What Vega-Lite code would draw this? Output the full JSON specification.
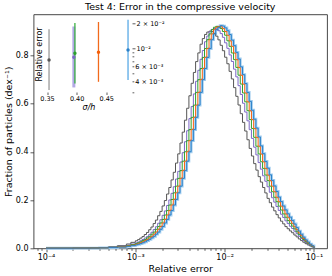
{
"$schema":"https://vega.github.io/schema/vega-lite/v6.json",
"width":293.5,"height":234,
"autosize":{"type":"none"},
"padding":{"left":33.5,"top":14.3,"right":5,"bottom":27.7},
"background":"white",
"title":{"text":"Test 4: Error in the compressive velocity","fontSize":9.5,"fontWeight":"normal","font":"DejaVu Sans","color":"#000","offset":3,"anchor":"middle"},
"config":{"view":{"stroke":"#333","strokeWidth":0.9},"font":"DejaVu Sans","axis":{"labelFont":"DejaVu Sans","titleFont":"DejaVu Sans","labelColor":"#000","titleColor":"#000","tickColor":"#333","tickWidth":0.8,"domain":false,"grid":false,"titleFontWeight":"normal","labelFontSize":8,"titleFontSize":9.5,"labelOverlap":false,"labelFlush":false}},
"datasets":{
"hist":[
{"s":"g","x":0.0001,"y":0.00045},{"s":"g","x":0.00019953,"y":0.001},{"s":"g","x":0.00031623,"y":0.0019},{"s":"g","x":0.00039811,"y":0.0032},{"s":"g","x":0.00050119,"y":0.0058},{"s":"g","x":0.00063096,"y":0.0108},{"s":"g","x":0.00079433,"y":0.0178},{"s":"g","x":0.00089125,"y":0.0247},
{"s":"g","x":0.001,"y":0.0311},{"s":"g","x":0.0010593,"y":0.036},{"s":"g","x":0.001122,"y":0.0423},{"s":"g","x":0.0011885,"y":0.0486},{"s":"g","x":0.0012589,"y":0.0572},{"s":"g","x":0.0013335,"y":0.0657},{"s":"g","x":0.0014125,"y":0.077},{"s":"g","x":0.0014962,"y":0.0882},{"s":"g","x":0.0015849,"y":0.1026},{"s":"g","x":0.0016788,"y":0.117},{"s":"g","x":0.0017783,"y":0.135},{"s":"g","x":0.0018836,"y":0.153},{"s":"g","x":0.0019953,"y":0.1755},{"s":"g","x":0.0021135,"y":0.198},{"s":"g","x":0.0022387,"y":0.225},{"s":"g","x":0.0023714,"y":0.252},{"s":"g","x":0.0025119,"y":0.2835},{"s":"g","x":0.0026607,"y":0.315},{"s":"g","x":0.0028184,"y":0.3533},{"s":"g","x":0.0029854,"y":0.3915},{"s":"g","x":0.0031623,"y":0.4365},{"s":"g","x":0.0033497,"y":0.4815},{"s":"g","x":0.0035481,"y":0.531},{"s":"g","x":0.0037584,"y":0.5805},{"s":"g","x":0.0039811,"y":0.6323},{"s":"g","x":0.004217,"y":0.684},{"s":"g","x":0.0044668,"y":0.729},{"s":"g","x":0.0047315,"y":0.774},{"s":"g","x":0.0050119,"y":0.81},{"s":"g","x":0.0053088,"y":0.846},{"s":"g","x":0.0056234,"y":0.8694},{"s":"g","x":0.0059566,"y":0.8865},{"s":"g","x":0.0063096,"y":0.8964},{"s":"g","x":0.0066834,"y":0.9},{"s":"g","x":0.0070795,"y":0.8982},{"s":"g","x":0.0074989,"y":0.891},{"s":"g","x":0.0079433,"y":0.8793},{"s":"g","x":0.008414,"y":0.864},{"s":"g","x":0.0089125,"y":0.8415},{"s":"g","x":0.0094406,"y":0.819},{"s":"g","x":0.01,"y":0.792},{"s":"g","x":0.010593,"y":0.765},{"s":"g","x":0.01122,"y":0.7335},{"s":"g","x":0.011885,"y":0.702},{"s":"g","x":0.012589,"y":0.666},{"s":"g","x":0.013335,"y":0.63},{"s":"g","x":0.014125,"y":0.594},{"s":"g","x":0.014962,"y":0.558},{"s":"g","x":0.015849,"y":0.522},{"s":"g","x":0.016788,"y":0.486},{"s":"g","x":0.017783,"y":0.45},{"s":"g","x":0.018836,"y":0.414},{"s":"g","x":0.019953,"y":0.3825},{"s":"g","x":0.021135,"y":0.351},{"s":"g","x":0.022387,"y":0.324},{"s":"g","x":0.023714,"y":0.297},{"s":"g","x":0.025119,"y":0.2745},{"s":"g","x":0.026607,"y":0.252},{"s":"g","x":0.028184,"y":0.2295},{"s":"g","x":0.029854,"y":0.207},{"s":"g","x":0.031623,"y":0.189},{"s":"g","x":0.033497,"y":0.171},{"s":"g","x":0.035481,"y":0.1553},{"s":"g","x":0.037584,"y":0.1395},{"s":"g","x":0.039811,"y":0.126},{"s":"g","x":0.04217,"y":0.1125},{"s":"g","x":0.044668,"y":0.1013},{"s":"g","x":0.047315,"y":0.09},{"s":"g","x":0.050119,"y":0.081},{"s":"g","x":0.053088,"y":0.072},{"s":"g","x":0.056234,"y":0.0644},{"s":"g","x":0.059566,"y":0.055},{"s":"g","x":0.063096,"y":0.0473},{"s":"g","x":0.066834,"y":0.0387},{"s":"g","x":0.070795,"y":0.032},{"s":"g","x":0.074989,"y":0.0252},{"s":"g","x":0.079433,"y":0.0192},{"s":"g","x":0.08414,"y":0.014},{"s":"g","x":0.089125,"y":0.0096},{"s":"g","x":0.094406,"y":0.0056},{"s":"g","x":0.1,"y":0},
{"s":"p","x":0.0001,"y":0.0004},{"s":"p","x":0.00019953,"y":0.0008},{"s":"p","x":0.00031623,"y":0.0015},{"s":"p","x":0.00039811,"y":0.0026},{"s":"p","x":0.00050119,"y":0.0045},{"s":"p","x":0.00063096,"y":0.008},{"s":"p","x":0.00079433,"y":0.0128},{"s":"p","x":0.00089125,"y":0.0178},
{"s":"p","x":0.001,"y":0.0228},{"s":"p","x":0.0010593,"y":0.0264},{"s":"p","x":0.001122,"y":0.0314},{"s":"p","x":0.0011885,"y":0.0364},{"s":"p","x":0.0012589,"y":0.0428},{"s":"p","x":0.0013335,"y":0.0492},{"s":"p","x":0.0014125,"y":0.0578},{"s":"p","x":0.0014962,"y":0.0665},{"s":"p","x":0.0015849,"y":0.0779},{"s":"p","x":0.0016788,"y":0.0893},{"s":"p","x":0.0017783,"y":0.1039},{"s":"p","x":0.0018836,"y":0.1184},{"s":"p","x":0.0019953,"y":0.1367},{"s":"p","x":0.0021135,"y":0.1549},{"s":"p","x":0.0022387,"y":0.1776},{"s":"p","x":0.0023714,"y":0.2004},{"s":"p","x":0.0025119,"y":0.2278},{"s":"p","x":0.0026607,"y":0.2551},{"s":"p","x":0.0028184,"y":0.287},{"s":"p","x":0.0029854,"y":0.3189},{"s":"p","x":0.0031623,"y":0.3576},{"s":"p","x":0.0033497,"y":0.3963},{"s":"p","x":0.0035481,"y":0.4418},{"s":"p","x":0.0037584,"y":0.4874},{"s":"p","x":0.0039811,"y":0.5375},{"s":"p","x":0.004217,"y":0.5876},{"s":"p","x":0.0044668,"y":0.64},{"s":"p","x":0.0047315,"y":0.6924},{"s":"p","x":0.0050119,"y":0.7379},{"s":"p","x":0.0053088,"y":0.7835},{"s":"p","x":0.0056234,"y":0.8199},{"s":"p","x":0.0059566,"y":0.8563},{"s":"p","x":0.0063096,"y":0.88},{"s":"p","x":0.0066834,"y":0.8973},{"s":"p","x":0.0070795,"y":0.9074},{"s":"p","x":0.0074989,"y":0.911},{"s":"p","x":0.0079433,"y":0.9092},{"s":"p","x":0.008414,"y":0.9019},{"s":"p","x":0.0089125,"y":0.89},{"s":"p","x":0.0094406,"y":0.8746},{"s":"p","x":0.01,"y":0.8518},{"s":"p","x":0.010593,"y":0.829},{"s":"p","x":0.01122,"y":0.8017},{"s":"p","x":0.011885,"y":0.7744},{"s":"p","x":0.012589,"y":0.7425},{"s":"p","x":0.013335,"y":0.7106},{"s":"p","x":0.014125,"y":0.6741},{"s":"p","x":0.014962,"y":0.6377},{"s":"p","x":0.015849,"y":0.6013},{"s":"p","x":0.016788,"y":0.5648},{"s":"p","x":0.017783,"y":0.5284},{"s":"p","x":0.018836,"y":0.4919},{"s":"p","x":0.019953,"y":0.4555},{"s":"p","x":0.021135,"y":0.4191},{"s":"p","x":0.022387,"y":0.3872},{"s":"p","x":0.023714,"y":0.3553},{"s":"p","x":0.025119,"y":0.328},{"s":"p","x":0.026607,"y":0.3006},{"s":"p","x":0.028184,"y":0.2779},{"s":"p","x":0.029854,"y":0.2551},{"s":"p","x":0.031623,"y":0.2323},{"s":"p","x":0.033497,"y":0.2095},{"s":"p","x":0.035481,"y":0.1913},{"s":"p","x":0.037584,"y":0.1731},{"s":"p","x":0.039811,"y":0.1571},{"s":"p","x":0.04217,"y":0.1412},{"s":"p","x":0.044668,"y":0.1275},{"s":"p","x":0.047315,"y":0.1139},{"s":"p","x":0.050119,"y":0.1025},{"s":"p","x":0.053088,"y":0.0911},{"s":"p","x":0.056234,"y":0.082},{"s":"p","x":0.059566,"y":0.0707},{"s":"p","x":0.063096,"y":0.0606},{"s":"p","x":0.066834,"y":0.0494},{"s":"p","x":0.070795,"y":0.0407},{"s":"p","x":0.074989,"y":0.0319},{"s":"p","x":0.079433,"y":0.0246},{"s":"p","x":0.08414,"y":0.0182},{"s":"p","x":0.089125,"y":0.0123},{"s":"p","x":0.094406,"y":0.0071},{"s":"p","x":0.1,"y":0},
{"s":"gr","x":0.0001,"y":0.0003},{"s":"gr","x":0.00019953,"y":0.0007},{"s":"gr","x":0.00031623,"y":0.0014},{"s":"gr","x":0.00039811,"y":0.0023},{"s":"gr","x":0.00050119,"y":0.0039},{"s":"gr","x":0.00063096,"y":0.0069},{"s":"gr","x":0.00079433,"y":0.011},{"s":"gr","x":0.00089125,"y":0.0152},
{"s":"gr","x":0.001,"y":0.0193},{"s":"gr","x":0.0010593,"y":0.023},{"s":"gr","x":0.001122,"y":0.0267},{"s":"gr","x":0.0011885,"y":0.0317},{"s":"gr","x":0.0012589,"y":0.0368},{"s":"gr","x":0.0013335,"y":0.0432},{"s":"gr","x":0.0014125,"y":0.0497},{"s":"gr","x":0.0014962,"y":0.0584},{"s":"gr","x":0.0015849,"y":0.0672},{"s":"gr","x":0.0016788,"y":0.0787},{"s":"gr","x":0.0017783,"y":0.0902},{"s":"gr","x":0.0018836,"y":0.1049},{"s":"gr","x":0.0019953,"y":0.1196},{"s":"gr","x":0.0021135,"y":0.138},{"s":"gr","x":0.0022387,"y":0.1564},{"s":"gr","x":0.0023714,"y":0.1794},{"s":"gr","x":0.0025119,"y":0.2024},{"s":"gr","x":0.0026607,"y":0.23},{"s":"gr","x":0.0028184,"y":0.2576},{"s":"gr","x":0.0029854,"y":0.2898},{"s":"gr","x":0.0031623,"y":0.322},{"s":"gr","x":0.0033497,"y":0.3611},{"s":"gr","x":0.0035481,"y":0.4002},{"s":"gr","x":0.0037584,"y":0.4462},{"s":"gr","x":0.0039811,"y":0.4922},{"s":"gr","x":0.004217,"y":0.5428},{"s":"gr","x":0.0044668,"y":0.5934},{"s":"gr","x":0.0047315,"y":0.6463},{"s":"gr","x":0.0050119,"y":0.6992},{"s":"gr","x":0.0053088,"y":0.7452},{"s":"gr","x":0.0056234,"y":0.7912},{"s":"gr","x":0.0059566,"y":0.828},{"s":"gr","x":0.0063096,"y":0.8648},{"s":"gr","x":0.0066834,"y":0.8887},{"s":"gr","x":0.0070795,"y":0.9062},{"s":"gr","x":0.0074989,"y":0.9163},{"s":"gr","x":0.0079433,"y":0.92},{"s":"gr","x":0.008414,"y":0.9182},{"s":"gr","x":0.0089125,"y":0.9108},{"s":"gr","x":0.0094406,"y":0.8988},{"s":"gr","x":0.01,"y":0.8832},{"s":"gr","x":0.010593,"y":0.8602},{"s":"gr","x":0.01122,"y":0.8372},{"s":"gr","x":0.011885,"y":0.8096},{"s":"gr","x":0.012589,"y":0.782},{"s":"gr","x":0.013335,"y":0.7498},{"s":"gr","x":0.014125,"y":0.7176},{"s":"gr","x":0.014962,"y":0.6808},{"s":"gr","x":0.015849,"y":0.644},{"s":"gr","x":0.016788,"y":0.6072},{"s":"gr","x":0.017783,"y":0.5704},{"s":"gr","x":0.018836,"y":0.5336},{"s":"gr","x":0.019953,"y":0.4968},{"s":"gr","x":0.021135,"y":0.46},{"s":"gr","x":0.022387,"y":0.4232},{"s":"gr","x":0.023714,"y":0.391},{"s":"gr","x":0.025119,"y":0.3588},{"s":"gr","x":0.026607,"y":0.3312},{"s":"gr","x":0.028184,"y":0.3036},{"s":"gr","x":0.029854,"y":0.2806},{"s":"gr","x":0.031623,"y":0.2576},{"s":"gr","x":0.033497,"y":0.2346},{"s":"gr","x":0.035481,"y":0.2116},{"s":"gr","x":0.037584,"y":0.1932},{"s":"gr","x":0.039811,"y":0.1748},{"s":"gr","x":0.04217,"y":0.1587},{"s":"gr","x":0.044668,"y":0.1426},{"s":"gr","x":0.047315,"y":0.1288},{"s":"gr","x":0.050119,"y":0.115},{"s":"gr","x":0.053088,"y":0.1035},{"s":"gr","x":0.056234,"y":0.092},{"s":"gr","x":0.059566,"y":0.0803},{"s":"gr","x":0.063096,"y":0.0684},{"s":"gr","x":0.066834,"y":0.0566},{"s":"gr","x":0.070795,"y":0.0458},{"s":"gr","x":0.074989,"y":0.0364},{"s":"gr","x":0.079433,"y":0.0276},{"s":"gr","x":0.08414,"y":0.0207},{"s":"gr","x":0.089125,"y":0.014},{"s":"gr","x":0.094406,"y":0.0082},{"s":"gr","x":0.1,"y":0},
{"s":"o","x":0.0001,"y":0.0003},{"s":"o","x":0.00019953,"y":0.0007},{"s":"o","x":0.00031623,"y":0.0013},{"s":"o","x":0.00039811,"y":0.0019},{"s":"o","x":0.00050119,"y":0.0034},{"s":"o","x":0.00063096,"y":0.006},{"s":"o","x":0.00079433,"y":0.0094},{"s":"o","x":0.00089125,"y":0.0129},
{"s":"o","x":0.001,"y":0.0166},{"s":"o","x":0.0010593,"y":0.0193},{"s":"o","x":0.001122,"y":0.023},{"s":"o","x":0.0011885,"y":0.0267},{"s":"o","x":0.0012589,"y":0.0317},{"s":"o","x":0.0013335,"y":0.0368},{"s":"o","x":0.0014125,"y":0.0432},{"s":"o","x":0.0014962,"y":0.0497},{"s":"o","x":0.0015849,"y":0.0584},{"s":"o","x":0.0016788,"y":0.0672},{"s":"o","x":0.0017783,"y":0.0787},{"s":"o","x":0.0018836,"y":0.0902},{"s":"o","x":0.0019953,"y":0.1049},{"s":"o","x":0.0021135,"y":0.1196},{"s":"o","x":0.0022387,"y":0.138},{"s":"o","x":0.0023714,"y":0.1564},{"s":"o","x":0.0025119,"y":0.1794},{"s":"o","x":0.0026607,"y":0.2024},{"s":"o","x":0.0028184,"y":0.23},{"s":"o","x":0.0029854,"y":0.2576},{"s":"o","x":0.0031623,"y":0.2898},{"s":"o","x":0.0033497,"y":0.322},{"s":"o","x":0.0035481,"y":0.3611},{"s":"o","x":0.0037584,"y":0.4002},{"s":"o","x":0.0039811,"y":0.4462},{"s":"o","x":0.004217,"y":0.4922},{"s":"o","x":0.0044668,"y":0.5428},{"s":"o","x":0.0047315,"y":0.5934},{"s":"o","x":0.0050119,"y":0.6463},{"s":"o","x":0.0053088,"y":0.6992},{"s":"o","x":0.0056234,"y":0.7452},{"s":"o","x":0.0059566,"y":0.7912},{"s":"o","x":0.0063096,"y":0.828},{"s":"o","x":0.0066834,"y":0.8648},{"s":"o","x":0.0070795,"y":0.8887},{"s":"o","x":0.0074989,"y":0.9062},{"s":"o","x":0.0079433,"y":0.9163},{"s":"o","x":0.008414,"y":0.92},{"s":"o","x":0.0089125,"y":0.9182},{"s":"o","x":0.0094406,"y":0.9108},{"s":"o","x":0.01,"y":0.8988},{"s":"o","x":0.010593,"y":0.8832},{"s":"o","x":0.01122,"y":0.8602},{"s":"o","x":0.011885,"y":0.8372},{"s":"o","x":0.012589,"y":0.8096},{"s":"o","x":0.013335,"y":0.782},{"s":"o","x":0.014125,"y":0.7498},{"s":"o","x":0.014962,"y":0.7176},{"s":"o","x":0.015849,"y":0.6808},{"s":"o","x":0.016788,"y":0.644},{"s":"o","x":0.017783,"y":0.6072},{"s":"o","x":0.018836,"y":0.5704},{"s":"o","x":0.019953,"y":0.5336},{"s":"o","x":0.021135,"y":0.4968},{"s":"o","x":0.022387,"y":0.46},{"s":"o","x":0.023714,"y":0.4232},{"s":"o","x":0.025119,"y":0.391},{"s":"o","x":0.026607,"y":0.3588},{"s":"o","x":0.028184,"y":0.3312},{"s":"o","x":0.029854,"y":0.3036},{"s":"o","x":0.031623,"y":0.2806},{"s":"o","x":0.033497,"y":0.2576},{"s":"o","x":0.035481,"y":0.2346},{"s":"o","x":0.037584,"y":0.2116},{"s":"o","x":0.039811,"y":0.1932},{"s":"o","x":0.04217,"y":0.1748},{"s":"o","x":0.044668,"y":0.1587},{"s":"o","x":0.047315,"y":0.1426},{"s":"o","x":0.050119,"y":0.1288},{"s":"o","x":0.053088,"y":0.115},{"s":"o","x":0.056234,"y":0.1035},{"s":"o","x":0.059566,"y":0.0892},{"s":"o","x":0.063096,"y":0.077},{"s":"o","x":0.066834,"y":0.0633},{"s":"o","x":0.070795,"y":0.052},{"s":"o","x":0.074989,"y":0.0406},{"s":"o","x":0.079433,"y":0.0312},{"s":"o","x":0.08414,"y":0.023},{"s":"o","x":0.089125,"y":0.0157},{"s":"o","x":0.094406,"y":0.0092},{"s":"o","x":0.1,"y":0},
{"s":"b","x":0.0001,"y":0.0003},{"s":"b","x":0.00019953,"y":0.0006},{"s":"b","x":0.00031623,"y":0.0011},{"s":"b","x":0.00039811,"y":0.0017},{"s":"b","x":0.00050119,"y":0.0029},{"s":"b","x":0.00063096,"y":0.0051},{"s":"b","x":0.00079433,"y":0.0081},{"s":"b","x":0.00089125,"y":0.011},
{"s":"b","x":0.001,"y":0.0138},{"s":"b","x":0.0010593,"y":0.0166},{"s":"b","x":0.001122,"y":0.0193},{"s":"b","x":0.0011885,"y":0.023},{"s":"b","x":0.0012589,"y":0.0267},{"s":"b","x":0.0013335,"y":0.0317},{"s":"b","x":0.0014125,"y":0.0368},{"s":"b","x":0.0014962,"y":0.0432},{"s":"b","x":0.0015849,"y":0.0497},{"s":"b","x":0.0016788,"y":0.0584},{"s":"b","x":0.0017783,"y":0.0672},{"s":"b","x":0.0018836,"y":0.0787},{"s":"b","x":0.0019953,"y":0.0902},{"s":"b","x":0.0021135,"y":0.1049},{"s":"b","x":0.0022387,"y":0.1196},{"s":"b","x":0.0023714,"y":0.138},{"s":"b","x":0.0025119,"y":0.1564},{"s":"b","x":0.0026607,"y":0.1794},{"s":"b","x":0.0028184,"y":0.2024},{"s":"b","x":0.0029854,"y":0.23},{"s":"b","x":0.0031623,"y":0.2576},{"s":"b","x":0.0033497,"y":0.2898},{"s":"b","x":0.0035481,"y":0.322},{"s":"b","x":0.0037584,"y":0.3611},{"s":"b","x":0.0039811,"y":0.4002},{"s":"b","x":0.004217,"y":0.4462},{"s":"b","x":0.0044668,"y":0.4922},{"s":"b","x":0.0047315,"y":0.5428},{"s":"b","x":0.0050119,"y":0.5934},{"s":"b","x":0.0053088,"y":0.6463},{"s":"b","x":0.0056234,"y":0.6992},{"s":"b","x":0.0059566,"y":0.7452},{"s":"b","x":0.0063096,"y":0.7912},{"s":"b","x":0.0066834,"y":0.828},{"s":"b","x":0.0070795,"y":0.8648},{"s":"b","x":0.0074989,"y":0.8887},{"s":"b","x":0.0079433,"y":0.9062},{"s":"b","x":0.008414,"y":0.9163},{"s":"b","x":0.0089125,"y":0.923},{"s":"b","x":0.0094406,"y":0.9212},{"s":"b","x":0.01,"y":0.9138},{"s":"b","x":0.010593,"y":0.9018},{"s":"b","x":0.01122,"y":0.8861},{"s":"b","x":0.011885,"y":0.863},{"s":"b","x":0.012589,"y":0.8399},{"s":"b","x":0.013335,"y":0.8122},{"s":"b","x":0.014125,"y":0.7846},{"s":"b","x":0.014962,"y":0.7522},{"s":"b","x":0.015849,"y":0.7199},{"s":"b","x":0.016788,"y":0.683},{"s":"b","x":0.017783,"y":0.6461},{"s":"b","x":0.018836,"y":0.6092},{"s":"b","x":0.019953,"y":0.5723},{"s":"b","x":0.021135,"y":0.5353},{"s":"b","x":0.022387,"y":0.4984},{"s":"b","x":0.023714,"y":0.4615},{"s":"b","x":0.025119,"y":0.4246},{"s":"b","x":0.026607,"y":0.3923},{"s":"b","x":0.028184,"y":0.36},{"s":"b","x":0.029854,"y":0.3323},{"s":"b","x":0.031623,"y":0.3046},{"s":"b","x":0.033497,"y":0.2815},{"s":"b","x":0.035481,"y":0.2584},{"s":"b","x":0.037584,"y":0.2354},{"s":"b","x":0.039811,"y":0.2123},{"s":"b","x":0.04217,"y":0.1938},{"s":"b","x":0.044668,"y":0.1754},{"s":"b","x":0.047315,"y":0.1592},{"s":"b","x":0.050119,"y":0.1431},{"s":"b","x":0.053088,"y":0.1292},{"s":"b","x":0.056234,"y":0.1154},{"s":"b","x":0.059566,"y":0.1007},{"s":"b","x":0.063096,"y":0.0859},{"s":"b","x":0.066834,"y":0.0714},{"s":"b","x":0.070795,"y":0.0583},{"s":"b","x":0.074989,"y":0.0462},{"s":"b","x":0.079433,"y":0.0349},{"s":"b","x":0.08414,"y":0.0261},{"s":"b","x":0.089125,"y":0.0176},{"s":"b","x":0.094406,"y":0.0104},{"s":"b","x":0.1,"y":0}
],
"ins":[
{"s":"g","sig":0.3534,"med":0.00723,"lo":0.00315,"hi":0.0169},
{"s":"p","sig":0.3953,"med":0.0078,"lo":0.00339,"hi":0.0182},
{"s":"gr","sig":0.3971,"med":0.0087,"lo":0.00379,"hi":0.0200},
{"s":"o","sig":0.4369,"med":0.00895,"lo":0.00396,"hi":0.0206},
{"s":"b","sig":0.4868,"med":0.00954,"lo":0.00415,"hi":0.0219}
]
},
"layer":[
{
"data":{"name":"hist"},
"encoding":{
"x":{"field":"x","type":"quantitative","scale":{"type":"log","domain":[0.00007244,0.14],"nice":false},
"axis":{"title":"Relative error","titlePadding":2,"labelPadding":1.5,"values":[0.00008,0.00009,0.0001,0.0002,0.0003,0.0004,0.0005,0.0006,0.0007,0.0008,0.0009,0.001,0.002,0.003,0.004,0.005,0.006,0.007,0.008,0.009,0.01,0.02,0.03,0.04,0.05,0.06,0.07,0.08,0.09,0.1],
"labelExpr":"datum.value==0.0001?'10⁻⁴':datum.value==0.001?'10⁻³':datum.value==0.01?'10⁻²':datum.value==0.1?'10⁻¹':''",
"tickSize":{"condition":{"test":"indexof([0.0001,0.001,0.01,0.1],datum.value)>=0","value":3.5},"value":2}}},
"y":{"field":"y","type":"quantitative","scale":{"domain":[0,0.97],"nice":false,"zero":false},
"axis":{"title":"Fraction of particles (dex⁻¹)","values":[0,0.2,0.4,0.6,0.8],"format":".1f","tickSize":3.5,"labelPadding":2,"titlePadding":2}}
},
"layer":[
{"transform":[{"filter":"datum.s=='b'"}],"mark":{"type":"line","interpolate":"step-after","strokeWidth":2.8,"color":"#a2cdef"}},
{"mark":{"type":"line","interpolate":"step-after","strokeWidth":1},
"encoding":{"color":{"field":"s","type":"nominal","legend":null,"scale":{"domain":["b","o","gr","p","g"],"range":["#2a80c8","#f5600a","#2ca02c","#7b68c4","#555555"]}}}}
]
},
{
"data":{"name":"ins"},
"encoding":{
"x":{"field":"sig","type":"quantitative","scale":{"domain":[0.3466,0.4935],"range":[11.5,98.5],"nice":false,"zero":false},
"axis":{"orient":"bottom","offset":-156.3,"values":[0.35,0.4,0.45],"format":".2f","title":"σ/h","titleFontStyle":"italic","titleFontSize":8,"labelFontSize":6.5,"tickSize":2.5,"labelPadding":1,"titlePadding":1}},
"y":{"field":"med","type":"quantitative","scale":{"type":"log","domain":[0.00299,0.0243],"range":[77.7,1.7],"nice":false},
"axis":{"orient":"right","offset":-195,"values":[0.003,0.004,0.005,0.006,0.007,0.008,0.009,0.01,0.02],
"labelExpr":"datum.value==0.02?'2 × 10⁻²':datum.value==0.01?'10⁻²':datum.value==0.006?'6 × 10⁻³':datum.value==0.004?'4 × 10⁻³':''",
"labelFontSize":6.5,"labelPadding":1,
"tickSize":{"condition":{"test":"datum.value==0.01||datum.value==0.02","value":3},"value":1.8},
"title":"Relative error","titleFontSize":8,"titleAngle":-90,"titleX":-93,"titleY":39.7,"titleAlign":"center","titleBaseline":"middle"}}
},
"layer":[
{"data":{"values":[{}]},"mark":{"type":"rect","fill":"white","fillOpacity":0,"stroke":"#555","strokeWidth":0.8},
"encoding":{"x":{"datum":0.3466,"type":"quantitative"},"x2":{"datum":0.4935},"y":{"datum":0.00299,"type":"quantitative"},"y2":{"datum":0.0243}}},
{"mark":{"type":"rule"},
"encoding":{"y":{"field":"lo","type":"quantitative"},"y2":{"field":"hi"},
"strokeWidth":{"condition":{"test":"datum.s=='p'","value":3},"value":1.3},
"color":{"field":"s","type":"nominal","legend":null,"scale":{"domain":["g","p","gr","o","b"],"range":["#9a9a9a","#b3a9e6","#3cb043","#f26a1c","#5aaae6"]}}}},
{"mark":{"type":"point","filled":true,"shape":"circle","size":12,"opacity":1},
"encoding":{"color":{"field":"s","type":"nominal","legend":null,"scale":{"domain":["g","p","gr","o","b"],"range":["#555555","#7b68c4","#2ca02c","#f5600a","#2a80c8"]}}}}
],
"resolve":{"scale":{"color":"independent"}}
}
],
"resolve":{"scale":{"x":"independent","y":"independent","color":"independent"},"axis":{"x":"independent","y":"independent"}}
}
